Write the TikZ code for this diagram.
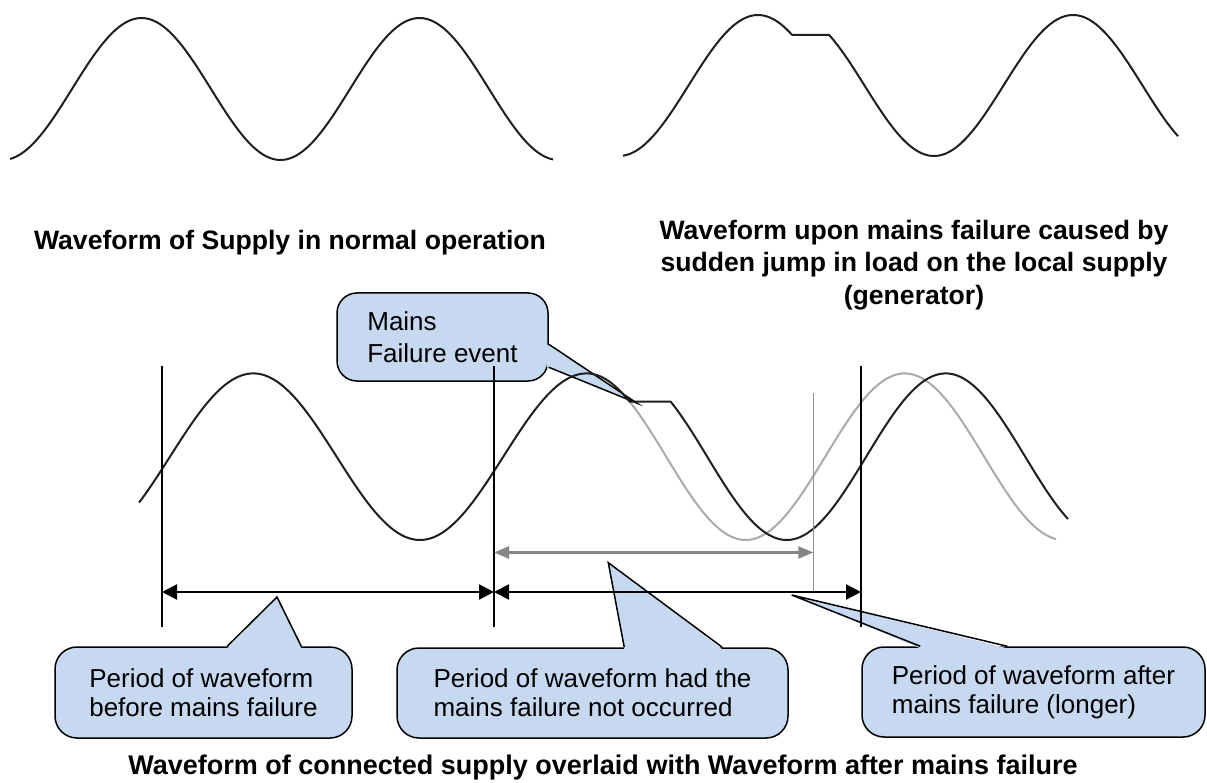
\documentclass[tikz,border=0pt]{standalone}
\usepackage{fontspec}
\setmainfont{Liberation Sans}
\usetikzlibrary{arrows.meta,calc}

\definecolor{callfill}{HTML}{C6D9F1}
\definecolor{ghost}{HTML}{ABABAB}
\definecolor{spangray}{HTML}{858585}
\definecolor{markgray}{HTML}{8F8F8F}

\begin{document}
\begin{tikzpicture}[x=1pt,y=-1pt,
  wave/.style={line width=2pt, color=black!88, line join=round},
  ghostwave/.style={line width=2pt, color=ghost, line join=round},
  marker/.style={line width=1.6pt, color=black},
  thinmarker/.style={line width=1.3pt, color=markgray},
  span/.style={line width=2.2pt, {Triangle[length=15pt,width=15pt]}-{Triangle[length=15pt,width=15pt]}},
  grayspan/.style={line width=2.4pt, color=spangray, {Triangle[length=15pt,width=12pt]}-{Triangle[length=15pt,width=12pt]}},
  callbox/.style={draw, line width=1.5pt, fill=callfill, rounded corners=22pt, align=left, inner sep=0pt,
                  font=\fontsize{26}{29}\selectfont},
  callline/.style={line width=1.5pt, line join=miter},
  title/.style={font=\bfseries\fontsize{26.6}{32.5}\selectfont, align=center, inner sep=0pt},
]
\useasboundingbox (0,0) rectangle (1207,783);
\fill[white] (0,0) rectangle (1207,783);

% ---------- top left: normal supply ----------
\draw[wave] plot[domain=10:553, samples=160] (\x, {89 - 71*cos((\x-141.5)/278*360)});
\node[title] (t1) at (290,243) {Waveform of Supply in normal operation};

% ---------- top right: supply with load step ----------
\draw[wave] plot[domain=623:792, samples=60] (\x, {85.5 - 70.5*cos((\x-758)/278*360)})
   -- plot[domain=829:1178, samples=120] (\x, {85.5 - 70.5*cos((\x-795)/278*360)});
\node[title] (t2) at (914,265) {Waveform upon mains failure caused by\\sudden jump in load on the local supply\\(generator)};

% ---------- callouts ----------
\node[callbox, minimum width=211pt, minimum height=88pt, rounded corners=20pt, font=\fontsize{26}{31.5}\selectfont] (mf) at (442.5,337) {Mains\\Failure event};
\coordinate (mfTip) at (636.7,403);
\fill[callfill] ($(mf.north east)+(-2,52)$) -- (mfTip) -- ($(mf.north east)+(-2,75)$) -- cycle;
\draw[callline] ($(mf.north east)+(0,52)$) -- (mfTip) -- ($(mf.north east)+(0,75)$);

\node[callbox, minimum width=297pt, minimum height=91pt] (lc) at (203.5,692.5) {Period of waveform\\before mains failure};
\coordinate (lcTip) at (277,597);
\fill[callfill] ($(lc.north west)+(173,2)$) -- (lcTip) -- ($(lc.north west)+(247,2)$) -- cycle;
\draw[callline] ($(lc.north west)+(173,0)$) -- (lcTip) -- ($(lc.north west)+(247,0)$);

\node[callbox, minimum width=391pt, minimum height=90pt] (mc) at (592.5,693) {Period of waveform had the\\mains failure not occurred};
\coordinate (mcTip) at (608.3,562.7);
\fill[callfill] ($(mc.north west)+(228,2)$) -- (mcTip) -- ($(mc.north west)+(326,2)$) -- cycle;
\draw[callline] ($(mc.north west)+(228,0)$) -- (mcTip) -- ($(mc.north west)+(326,0)$);

\node[callbox, minimum width=343pt, minimum height=90pt] (rc) at (1033.5,692) {Period of waveform after\\mains failure (longer)};
\coordinate (rcTip) at (791.7,595);
\fill[callfill] ($(rc.north west)+(59,2)$) -- (rcTip) -- ($(rc.north west)+(146,2)$) -- cycle;
\draw[callline] ($(rc.north west)+(59,0)$) -- (rcTip) -- ($(rc.north west)+(146,0)$);

% ---------- bottom: overlaid waveforms ----------
% waveform had the mains not failed
\draw[ghostwave] plot[domain=629.7:1056, samples=140] (\x, {456.7 - 83.3*cos((\x-586.7)/318*360)});
% connected supply, then the stalled waveform after the failure
\draw[wave] plot[domain=139:586.7, samples=150] (\x, {456.7 - 83.3*cos((\x-253.3)/333.3*360)})
   -- plot[domain=586.7:629.7, samples=20] (\x, {456.7 - 83.3*cos((\x-586.7)/318*360)})
   -- plot[domain=670.7:1068, samples=130] (\x, {456.7 - 83.3*cos((\x-627.7)/318*360)});

% period markers
\coordinate (m1t) at (162,366);  \coordinate (m1b) at (162,627);
\coordinate (m2t) at (494,366);  \coordinate (m2b) at (494,627);
\coordinate (m3t) at (861,366);  \coordinate (m3b) at (861,627);
\coordinate (g1t) at (813.3,393); \coordinate (g1b) at (813.3,592);
\draw[marker] (m1t) -- (m1b);
\draw[marker] (m2t) -- (m2b);
\draw[marker] (m3t) -- (m3b);
\draw[thinmarker] (g1t) -- (g1b);

% period spans
\coordinate (a1) at (162,592);
\coordinate (a2) at (494,592);
\coordinate (a3) at (861,592);
\coordinate (b1) at (494,552.5);
\coordinate (b2) at (813.3,552.5);
\draw[span] (a1) -- (a2);
\draw[span] (a2) -- (a3);
\draw[grayspan] (b1) -- (b2);

\node[title, font=\bfseries\fontsize{27}{32}\selectfont] (t3) at (603,768) {Waveform of connected supply overlaid with Waveform after mains failure};
\end{tikzpicture}
\end{document}
